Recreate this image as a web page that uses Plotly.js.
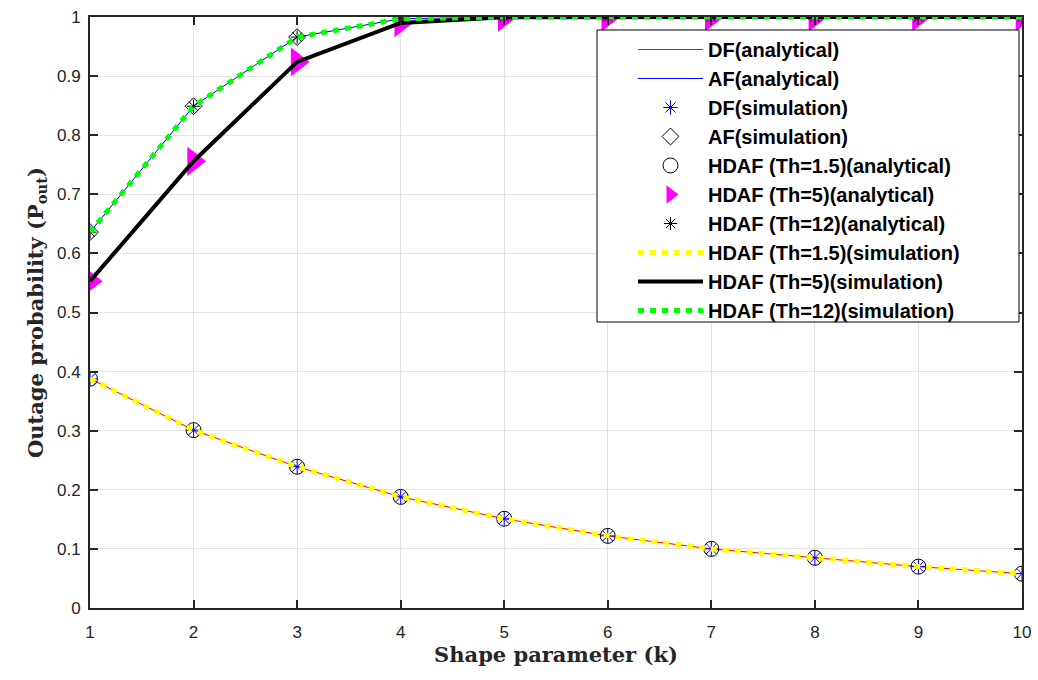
<!DOCTYPE html>
<html><head><meta charset="utf-8">
<script src="https://cdn.plot.ly/plotly-3.0.1.min.js"></script>
<style>body{margin:0;background:#fff}#chart{width:1038px;height:680px}</style>
</head><body><div id="chart"></div>
<script>
const k = [1,2,3,4,5,6,7,8,9,10];
const dfVals = [0.388,0.301,0.239,0.188,0.151,0.122,0.100,0.085,0.070,0.058];
const afVals = [0.636,0.849,0.966,0.997,0.9999,1,1,1,1,1];
const hdaf15 = [0.388,0.301,0.239,0.188,0.151,0.122,0.100,0.085,0.070,0.058];
const hdaf5  = [0.553,0.756,0.924,0.990,0.9995,1,1,1,1,1];
const hdaf12 = [0.636,0.849,0.966,0.997,0.9999,1,1,1,1,1];
const names = ['DF(analytical)','AF(analytical)','DF(simulation)','AF(simulation)',
 'HDAF (Th=1.5)(analytical)','HDAF (Th=5)(analytical)','HDAF (Th=12)(analytical)',
 'HDAF (Th=1.5)(simulation)','HDAF (Th=5)(simulation)','HDAF (Th=12)(simulation)'];

const traces = [
 {x:k,y:dfVals,name:names[0],mode:'lines',line:{color:'#ff0000',width:1}},
 {x:k,y:afVals,name:names[1],mode:'lines',line:{color:'#0000ff',width:1}},
 {x:k,y:dfVals,name:names[2],mode:'markers',marker:{symbol:'asterisk-open',size:12,color:'#0000ff',line:{color:'#0000ff',width:1}}},
 {x:k,y:afVals,name:names[3],mode:'markers',marker:{symbol:'diamond-open',size:13,color:'#000',line:{color:'#000',width:1}}},
 {x:k,y:hdaf15,name:names[4],mode:'markers',marker:{symbol:'circle-open',size:15,color:'#000',line:{color:'#000',width:1}}},
 {x:k,y:hdaf5,name:names[5],mode:'markers',marker:{symbol:'triangle-right',size:25,color:'#ff00ff',line:{width:0}}},
 {x:k,y:hdaf12,name:names[6],mode:'markers',marker:{symbol:'asterisk-open',size:11,color:'#000',line:{color:'#000',width:1}}},
 {x:k,y:hdaf15,name:names[7],mode:'lines',line:{color:'#ffff00',width:5,dash:'6px,6px'}},
 {x:k,y:hdaf5,name:names[8],mode:'lines',line:{color:'#000000',width:4}},
 {x:k,y:hdaf12,name:names[9],mode:'lines',line:{color:'#00ff00',width:5,dash:'6px,6px'}}
];

const axFont = {family:'Liberation Sans, Arial, sans-serif',size:17,color:'#262626'};
const titleFont = {family:'DejaVu Serif, serif',size:21,color:'#262626',weight:'bold'};
const layout = {
 width:1038,height:680,
 margin:{l:90,r:16,t:17,b:72},
 paper_bgcolor:'#fff',plot_bgcolor:'#fff',
 showlegend:true,
 legend:{x:0.5826,y:0.978,xanchor:'left',yanchor:'top',bgcolor:'rgba(0,0,0,0)',borderwidth:0,
   font:{family:'Liberation Sans, Arial, sans-serif',size:20,color:'#000',weight:'bold'},
   tracegroupgap:0,itemwidth:65},
 shapes:[{type:'rect',xref:'paper',yref:'paper',x0:0.544,x1:0.9968,y0:0.4839,y1:0.978,
   fillcolor:'#fff',line:{color:'#000',width:1},layer:'above'}],
 xaxis:{range:[1,10],tickvals:k,ticks:'inside',ticklen:8,tickwidth:2,tickcolor:'#262626',
   showline:true,linecolor:'#262626',linewidth:2,mirror:'ticks',ticklabelstandoff:8,
   showgrid:true,gridcolor:'#e3e3e3',gridwidth:1,zeroline:false,tickfont:axFont,
   title:{text:'Shape parameter (k)',font:titleFont,standoff:6}},
 yaxis:{range:[0,1],dtick:0.1,tick0:0,ticks:'inside',ticklen:8,tickwidth:2,tickcolor:'#262626',
   showline:true,linecolor:'#262626',linewidth:2,mirror:'ticks',ticklabelstandoff:4,
   showgrid:true,gridcolor:'#e3e3e3',gridwidth:1,zeroline:false,tickfont:axFont,
   title:{text:'Outage probability (P<sub>out</sub>)',font:titleFont,standoff:8}}
};
Plotly.newPlot('chart',traces,layout,{displayModeBar:false,staticPlot:true});
</script></body></html>
